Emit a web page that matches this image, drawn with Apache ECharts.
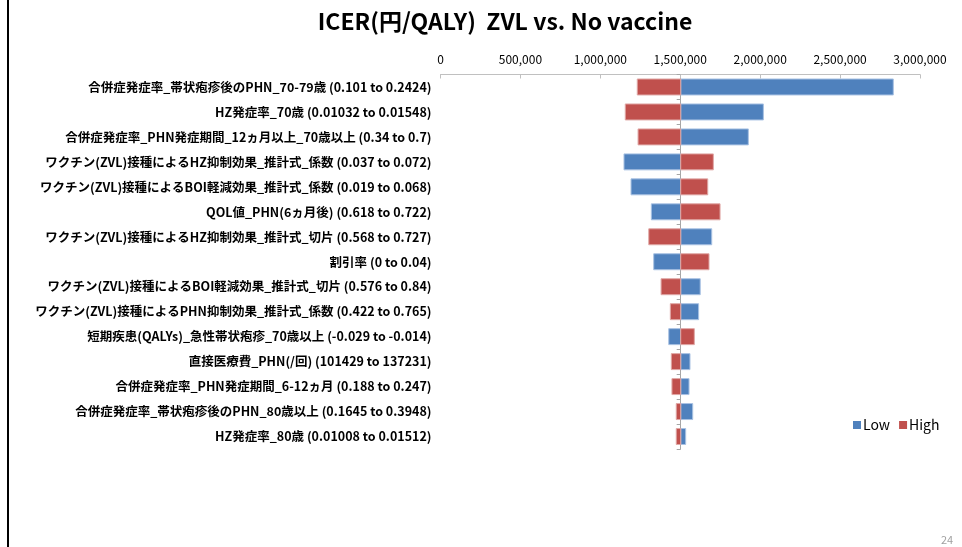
<!DOCTYPE html>
<html>
<head>
<meta charset="utf-8">
<script src="https://cdn.jsdelivr.net/npm/echarts@6/dist/echarts.min.js"></script>
<style>
  html, body { margin: 0; padding: 0; background: #fff; }
  #chart { width: 962px; height: 547px; }
</style>
</head>
<body>
<div id="chart"></div>
<script>
// Tornado chart: one-way sensitivity of the ICER (円/QALY), ZVL vs. no vaccine
const baseICER = 1503000;

const categories = [
  '合併症発症率_帯状疱疹後のPHN_70-79歳 (0.101 to 0.2424)',
  'HZ発症率_70歳 (0.01032 to 0.01548)',
  '合併症発症率_PHN発症期間_12ヵ月以上_70歳以上 (0.34 to 0.7)',
  'ワクチン(ZVL)接種によるHZ抑制効果_推計式_係数 (0.037 to 0.072)',
  'ワクチン(ZVL)接種によるBOI軽減効果_推計式_係数 (0.019 to 0.068)',
  'QOL値_PHN(6ヵ月後) (0.618 to 0.722)',
  'ワクチン(ZVL)接種によるHZ抑制効果_推計式_切片 (0.568 to 0.727)',
  '割引率 (0 to 0.04)',
  'ワクチン(ZVL)接種によるBOI軽減効果_推計式_切片 (0.576 to 0.84)',
  'ワクチン(ZVL)接種によるPHN抑制効果_推計式_係数 (0.422 to 0.765)',
  '短期疾患(QALYs)_急性帯状疱疹_70歳以上 (-0.029 to -0.014)',
  '直接医療費_PHN(/回) (101429 to 137231)',
  '合併症発症率_PHN発症期間_6-12ヵ月 (0.188 to 0.247)',
  '合併症発症率_帯状疱疹後のPHN_80歳以上 (0.1645 to 0.3948)',
  'HZ発症率_80歳 (0.01008 to 0.01512)'
];

// ICER when each parameter is set to its low / high value
const lowValues = [2833000, 2020000, 1926000, 1148000, 1192000, 1319000, 1697000, 1334000,
                   1625000, 1615000, 1428000, 1561000, 1555000, 1578000, 1534000];
const highValues = [1231000, 1156000, 1236000, 1707000, 1672000, 1749000, 1303000, 1680000,
                    1380000, 1438000, 1588000, 1444000, 1448000, 1475000, 1475000];

const axisTicks = [0, 500000, 1000000, 1500000, 2000000, 2500000, 3000000];

const FONT = '"Noto Sans CJK JP", "Noto Sans", sans-serif';
const BLUE = '#4F81BD';
const RED = '#C0504D';

// Each bar runs from the base-case ICER to the value of its row
function tornadoBar(color, edge) {
  return function (params, api) {
    const row = api.value(1);
    const start = api.coord([baseICER, row]);
    const end = api.coord([api.value(0), row]);
    const band = api.size([0, 1])[1];
    const h = band * 0.64;
    return {
      type: 'rect',
      shape: {
        x: Math.min(start[0], end[0]),
        y: start[1] - h / 2,
        width: Math.abs(end[0] - start[0]),
        height: h
      },
      style: { fill: color, stroke: edge, lineWidth: 1 }
    };
  };
}

const chart = echarts.init(document.getElementById('chart'));
chart.setOption({
  animation: false,
  textStyle: { fontFamily: FONT },
  title: {
    text: 'ICER(円/QALY)  ZVL vs. No vaccine',
    left: 500,
    textAlign: 'center',
    top: 5,
    textStyle: { fontFamily: FONT, fontSize: 23, fontWeight: 'bold', color: '#000' }
  },
  legend: {
    left: 848,
    top: 413,
    icon: 'rect',
    itemWidth: 8,
    itemHeight: 8,
    itemGap: 9,
    textStyle: { fontFamily: FONT, fontSize: 14, color: '#000', padding: [0, 0, 0, -3] },
    data: ['Low', 'High']
  },
  grid: { left: 440.5, right: 42, top: 74.5, height: 374.5 },
  xAxis: {
    type: 'value',
    position: 'top',
    min: 0,
    max: 3000000,
    interval: 500000,
    splitLine: { show: false },
    axisLine: { show: true, lineStyle: { color: '#c0c0c0' } },
    axisTick: { show: true, inside: true, length: 4, lineStyle: { color: '#c0c0c0' } },
    axisLabel: {
      margin: 9,
      fontSize: 12,
      color: '#000',
      formatter: v => axisTicks.includes(v) ? v.toLocaleString('en-US') : ''
    }
  },
  yAxis: [
    {
      type: 'category',
      data: categories,
      inverse: true,
      axisLine: { show: false },
      axisTick: { show: false },
      axisLabel: { margin: 9, fontSize: 12.5, fontWeight: 'bold', color: '#000' }
    },
    {
      // vertical line drawn at the base-case ICER
      type: 'category',
      data: categories,
      inverse: true,
      position: 'left',
      offset: -240.2,
      axisLine: { show: true, lineStyle: { color: '#a6a6a6' } },
      axisTick: { show: true, length: 4, lineStyle: { color: '#a6a6a6' } },
      axisLabel: { show: false }
    }
  ],
  series: [
    {
      name: 'Low',
      type: 'custom',
      itemStyle: { color: BLUE },
      renderItem: tornadoBar(BLUE, '#a9c2e3'),
      encode: { x: 0, y: 1 },
      data: lowValues.map((v, i) => [v, i]),
      z: 2
    },
    {
      name: 'High',
      type: 'custom',
      itemStyle: { color: RED },
      renderItem: tornadoBar(RED, '#e0a8a6'),
      encode: { x: 0, y: 1 },
      data: highValues.map((v, i) => [v, i]),
      z: 2
    }
  ],
  graphic: [
    {
      type: 'rect',
      shape: { x: 7, y: 0, width: 2, height: 547 },
      style: { fill: '#000' },
      silent: true
    },
    {
      type: 'text',
      left: 941,
      top: 534,
      style: { text: '24', fontSize: 11, fill: '#a0a0a0', fontFamily: FONT }
    }
  ]
});
</script>
</body>
</html>
